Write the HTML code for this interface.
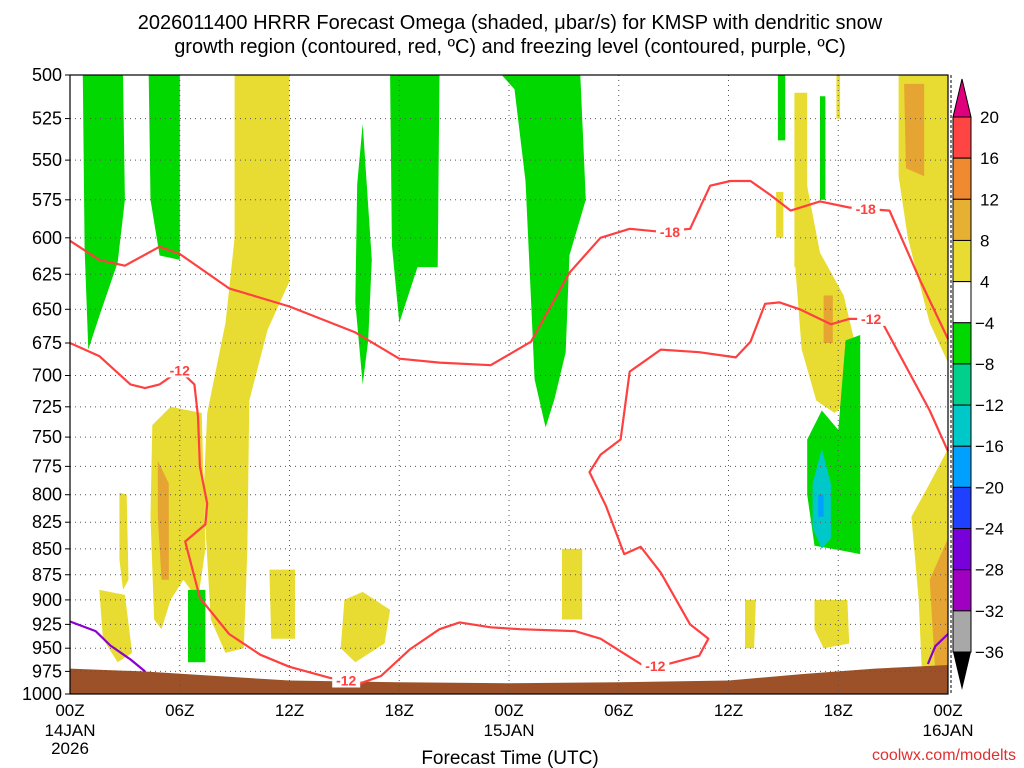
<!DOCTYPE html>
<html><head><meta charset="utf-8"><style>
body{margin:0;background:#fff;width:1024px;height:768px;overflow:hidden}
svg{display:block;font-family:"Liberation Sans",sans-serif}
</style></head><body>
<svg id="chart" width="1024" height="768" viewBox="0 0 1024 768" xmlns="http://www.w3.org/2000/svg">
<text x="510" y="29" font-size="20" text-anchor="middle" fill="#000">2026011400 HRRR Forecast Omega (shaded, μbar/s) for KMSP with dendritic snow</text>
<text x="510" y="53" font-size="20" text-anchor="middle" fill="#000">growth region (contoured, red, ºC) and freezing level (contoured, purple, ºC)</text>
<g id="shades"></g>
<g id="grid"></g>
<g id="lines"></g>
<g id="axes"></g>
<g id="cbar"></g>
<text x="510" y="764" font-size="19" text-anchor="middle">Forecast Time (UTC)</text>
<text x="1016" y="760" font-size="16" text-anchor="end" fill="#e03030">coolwx.com/modelts</text>
</svg>
<script>
const levels=[500,525,550,575,600,625,650,675,700,725,750,775,800,825,850,875,900,925,950,975,1000];
const hourTicks=[0,6,12,18,24,30,36,42,48];
const hourLabels=["00Z","06Z","12Z","18Z","00Z","06Z","12Z","18Z","00Z"];
const cbLevels=[20,16,12,8,4,-4,-8,-12,-16,-20,-24,-28,-32,-36];
const cbColors=["#ff4444","#f08a30","#e6b032","#e8dc32","#ffffff","#00d800","#00d08c","#00c8c8","#00a0ff","#2040ff","#7800d8","#a000c0","#a8a8a8"];
const YEL="#e8dc32",ORG="#e6a532",GRN="#00d800",CYN="#00c8c8",BLU="#00a0ff";
const yellowAreas=[
[[9.0,500],[12.0,500],[12.0,630],[10.8,665],[9.8,720],[9.7,850],[9.5,950],[8.5,955],[7.7,920],[7.3,800],[7.5,730],[8.5,660],[9.0,600]],
[[4.5,740],[5.5,725],[7.2,730],[7.4,850],[7.0,900],[6.2,880],[5.5,900],[5.0,930],[4.6,920],[4.4,820]],
[[2.7,798],[3.1,800],[3.2,880],[2.9,890],[2.7,860]],
[[1.6,890],[3.0,895],[3.4,955],[2.6,965],[1.8,940]],
[[10.9,870],[12.3,870],[12.3,940],[11.0,940]],
[[15.0,900],[16.0,892],[17.5,910],[17.2,945],[15.6,965],[14.8,950]],
[[26.9,850],[28.0,850],[28.0,920],[26.9,920]],
[[36.9,900],[37.5,900],[37.4,950],[36.9,950]],
[[40.7,900],[42.5,900],[42.6,945],[41.2,950],[40.7,930]],
[[39.6,612],[40.2,560],[41,610],[42.3,640],[43.0,680],[42.6,720],[41.8,730],[40.8,720],[40.0,680]],
[[39.6,510],[40.3,510],[40.3,620],[39.6,620]],
[[45.3,500],[48,500],[48,690],[47,660],[45.8,600],[45.3,560]],
[[46,820],[47,790],[48,760],[48,990],[46.6,990],[46.4,900]],
[[41.9,500],[42.1,500],[42.1,525],[41.9,525]],
[[38.6,570],[39,570],[39,600],[38.6,600]]
];
const orangeAreas=[
[[4.8,770],[5.4,790],[5.4,880],[5.0,880],[4.8,820]],
[[41.2,640],[41.7,640],[41.7,675],[41.2,675]],
[[45.6,505],[46.7,505],[46.7,560],[45.7,555]],
[[47,880],[48,840],[48,975],[47.3,975]]
];
const greenAreas=[
[[0.7,500],[2.9,500],[3.0,575],[2.6,617],[1.6,655],[1.0,680],[0.8,607]],
[[4.3,500],[6.0,500],[6.0,615],[4.9,612],[4.4,575]],
[[16.0,528],[16.5,615],[16.3,673],[16.0,707],[15.6,645],[15.7,565]],
[[17.5,500],[20.2,500],[20.1,620],[19.0,620],[18.0,660],[17.6,605]],
[[23.6,500],[27.9,500],[28.2,575],[27.3,612],[27.1,682],[26.5,718],[26.0,742],[25.4,703],[25.2,643],[24.9,563],[24.3,508]],
[[38.7,500],[39.1,500],[39.1,538],[38.7,538]],
[[41.0,512],[41.3,512],[41.3,575],[41.0,575]],
[[40.3,752],[41.1,728],[42.0,744],[42.4,673],[43.2,669],[43.2,855],[42.0,851],[40.7,847],[40.3,800]],
[[6.45,890],[7.4,890],[7.4,965],[6.45,965]]
];
const cyanAreas=[[[40.6,790],[41.1,760],[41.6,790],[41.6,840],[41.1,850],[40.6,830]]];
const blueAreas=[[[40.9,800],[41.2,800],[41.2,820],[40.9,820]]];
const line18=[[0,602],[1.6,615],[3.0,619],[4.9,606],[6.0,611],[8.7,635],[12.0,648],[15.6,667],[18.0,687],[20.2,690],[23.0,692],[25.2,674],[27.3,624],[29.0,600],[30.6,594],[32.3,596],[33.9,594],[35.0,566],[36.1,563],[37.2,563],[38.3,572],[39.4,582],[41.0,576],[42.6,580],[44.8,582],[46.5,630],[48,672]];
const line12=[[0,675],[1.6,685],[3.3,707],[4.1,710],[4.9,707],[6.0,696],[6.8,707],[7.0,733],[7.1,775],[7.5,808],[7.4,827],[6.3,843],[7.1,898],[8.7,935],[10.4,957],[12.0,970],[14.2,982],[15.9,988],[17.0,980],[18.6,951],[20.2,930],[21.3,923],[23.0,928],[24.6,930],[27.6,932],[29.0,940],[31.2,967],[32.3,969],[34.4,958],[34.9,940],[33.9,925],[32.3,873],[31.2,848],[30.3,855],[29.3,810],[28.4,780],[29.0,765],[30.1,752],[30.6,697],[32.3,680],[34.4,682],[36.4,686],[37.2,674],[38.0,646],[38.8,645],[39.9,650],[41.6,661],[42.6,657],[44.3,657],[45.4,685],[47.0,728],[48,762]];
const freezeLeft=[[0,922],[1.4,932],[2.2,947],[3.3,962],[4.1,975]];
const freezeRight=[[46.9,967],[47.3,948],[48,935]];
const surfHours=[0,4,8,12,18,24,30,36,40,44,48];
const surfPres=[972,975,980,985,987,988,987,985,978,972,968];
const labels=[["-18",32.8,596],["-18",43.5,581],["-12",6.0,696],["-12",15.1,985],["-12",32.0,969],["-12",43.8,657]];

const NS="http://www.w3.org/2000/svg";
const X0=70,X1=948,Y0=75,Y1=694;
const xS=h=>X0+h*(X1-X0)/48;
const yS=p=>Y0+(Y1-Y0)*Math.log(p/500)/Math.log(2);
function mk(tag,attrs,parent){const e=document.createElementNS(NS,tag);for(const k in attrs)e.setAttribute(k,attrs[k]);parent.appendChild(e);return e;}
const pts=a=>a.map(d=>xS(d[0]).toFixed(1)+","+yS(d[1]).toFixed(1)).join(" ");
const shades=document.getElementById("shades");
function drawAreas(arr,col,name){arr.forEach(a=>{const e=mk("polygon",{points:pts(a),fill:col},shades);

});}
drawAreas(yellowAreas,YEL,"omega-rising-4-8");
drawAreas(orangeAreas,ORG,"omega-rising-8-12");
drawAreas(greenAreas,GRN,"omega-sinking-4-8");
drawAreas(cyanAreas,CYN,"omega-sinking-12-16");
drawAreas(blueAreas,BLU,"omega-sinking-16-20");
const grid=document.getElementById("grid");
levels.forEach(p=>{if(p>500&&p<1000){const e=mk("line",{x1:X0,x2:X1,y1:yS(p),y2:yS(p),stroke:"#555","stroke-width":1,"stroke-dasharray":"1,4"},grid);

}});
hourTicks.forEach(h=>{if(h>0&&h<48){const e=mk("line",{x1:xS(h),x2:xS(h),y1:Y0,y2:Y1,stroke:"#555","stroke-width":1,"stroke-dasharray":"1,4"},grid);

}});
// terrain
const surf=surfHours.map((h,i)=>[h,surfPres[i]]);
const terr=mk("polygon",{points:pts([[0,1000]].concat(surf,[[48,1000]])),fill:"#9c5128"},shades);


const lines=document.getElementById("lines");
function drawLine(a,col,name,w){const e=mk("polyline",{points:pts(a),fill:"none",stroke:col,"stroke-width":w,"stroke-linejoin":"round"},lines);

}
drawLine(line18,"#ff4040","contour-minus-18",2.2);
drawLine(line12,"#ff4040","contour-minus-12",2.2);
drawLine(freezeLeft,"#8a00d0","freezing-level-left",2.2);
drawLine(freezeRight,"#8a00d0","freezing-level-right",2.2);
labels.forEach(l=>{const x=xS(l[1]),y=yS(l[2]);
const r=mk("rect",{x:x-14,y:y-8,width:28,height:15,fill:"#fff"},lines);


const t=mk("text",{x:x,y:y+5,"font-size":14,"font-weight":"bold","text-anchor":"middle",fill:"#ff4040"},lines);t.textContent=l[0];

});
const axes=document.getElementById("axes");
const fr=mk("rect",{x:X0,y:Y0,width:X1-X0,height:Y1-Y0,fill:"none",stroke:"#000","stroke-width":1.2},axes);


const rd=mk("line",{x1:X1+3,x2:X1+3,y1:Y0,y2:Y1,stroke:"#000","stroke-dasharray":"3,2"},axes);


levels.forEach(p=>{const t=mk("text",{x:62,y:yS(p)+6,"font-size":18,"text-anchor":"end"},axes);t.textContent=p;


const k=mk("line",{x1:X0-5,x2:X0,y1:yS(p),y2:yS(p),stroke:"#000"},axes);

});
hourTicks.forEach((h,i)=>{const t=mk("text",{x:xS(h),y:716,"font-size":17,"text-anchor":"middle"},axes);t.textContent=hourLabels[i];

});
[["14JAN",0,736],["2026",0,754],["15JAN",24,736],["16JAN",48,736]].forEach(d=>{const t=mk("text",{x:xS(d[1]),y:d[2],"font-size":17,"text-anchor":"middle"},axes);t.textContent=d[0];

});
// colorbar
const cb=document.getElementById("cbar");
const CX=953,CW=18,CT=117,CB=652,step=(CB-CT)/(cbLevels.length-1);
const tri1=mk("polygon",{points:`${CX},${CT} ${CX+CW},${CT} ${CX+CW/2},${CT-38}`,fill:"#e0007e",stroke:"#000"},cb);


cbColors.forEach((c,i)=>{const r=mk("rect",{x:CX,y:CT+i*step,width:CW,height:step,fill:c,stroke:"#000"},cb);

});
const tri2=mk("polygon",{points:`${CX},${CB} ${CX+CW},${CB} ${CX+CW/2},${CB+38}`,fill:"#000"},cb);


cbLevels.forEach((v,i)=>{const t=mk("text",{x:v<0?975:980,y:CT+i*step+6,"font-size":17},cb);t.textContent=v<0?"−"+(-v):v;

});
</script>
</body></html>
